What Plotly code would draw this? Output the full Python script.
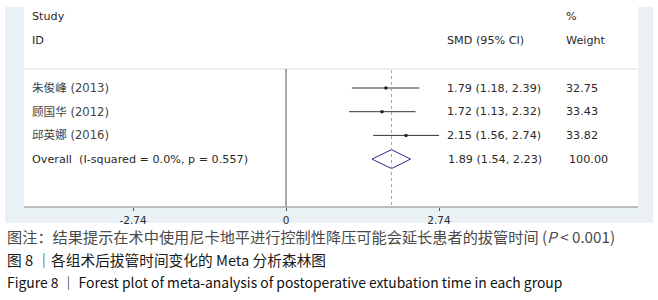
import plotly.graph_objects as go

# ---- data ----
studies = ["朱俊峰 (2013)", "顾国华 (2012)", "邱英娜 (2016)"]
smd = [1.79, 1.72, 2.15]
ci_low = [1.18, 1.13, 1.56]
ci_high = [2.39, 2.32, 2.74]
weights = [32.75, 33.43, 33.82]
overall_label = "Overall  (I-squared = 0.0%, p = 0.557)"
overall_smd = 1.89
overall_low = 1.54
overall_high = 2.23
overall_weight = 100.00
tick_vals = [-2.74, 0, 2.74]
tick_text = ["-2.74", "0", "2.74"]
captions = [
    "图注：结果提示在术中使用尼卡地平进行控制性降压可能会延长患者的拔管时间 (<i>P</i> < 0.001)",
    "图 8 ｜各组术后拔管时间变化的 Meta 分析森林图",
    "Figure 8 ｜ Forest plot of meta-analysis of postoperative extubation time in each group",
]

W, H = 658, 300
FONT = "DejaVu Sans"
TXT = "#2a2a2a"
FS = 11.2

# pixel layout helpers
px0 = 286.0            # pixel of x = 0
ppu = 153.0 / 2.74     # pixels per unit
left_px, right_px = 24, 638
top_px, bot_px = 7, 207
row0_px, row_step = 88.0, 23.7

def row_of(py):
    return (py - row0_px) / row_step

def pyp(py):  # pixel y -> paper y (paper spans the plot area)
    return (bot_px - py) / (bot_px - top_px)

def pxp(px):
    return px / W

yr = [row_of(bot_px), row_of(top_px)]

rows = list(range(len(studies)))
overall_row = len(studies)

fig = go.Figure()

fig.add_trace(go.Scatter(
    x=smd, y=rows, mode="markers",
    marker=dict(size=3.5, color="#222"),
    error_x=dict(type="data", symmetric=False,
                 array=[h - e for h, e in zip(ci_high, smd)],
                 arrayminus=[e - l for e, l in zip(smd, ci_low)],
                 thickness=1, width=0, color="#333"),
    showlegend=False, hoverinfo="skip"))

dh = 0.4
fig.add_trace(go.Scatter(
    x=[overall_low, overall_smd, overall_high, overall_smd, overall_low],
    y=[overall_row, overall_row - dh, overall_row, overall_row + dh, overall_row],
    mode="lines", line=dict(color="#2b2b8c", width=1),
    showlegend=False, hoverinfo="skip"))

shapes = [
    dict(type="rect", xref="paper", yref="paper", layer="below",
         x0=pxp(5), x1=pxp(653), y0=pyp(223), y1=pyp(7),
         fillcolor="#e9f1f4", line=dict(width=0)),
    dict(type="rect", xref="paper", yref="paper", layer="below",
         x0=pxp(left_px), x1=pxp(right_px), y0=pyp(bot_px), y1=pyp(top_px),
         fillcolor="white", line=dict(width=0)),
    dict(type="line", xref="paper", yref="y", x0=pxp(left_px), x1=pxp(right_px),
         y0=row_of(69), y1=row_of(69), line=dict(color="#dcdcdc", width=1)),
    dict(type="line", xref="x", yref="y", x0=0, x1=0,
         y0=row_of(69), y1=yr[0], line=dict(color="#555", width=1)),
    dict(type="line", xref="x", yref="y", x0=overall_smd, x1=overall_smd,
         y0=row_of(70), y1=yr[0], line=dict(color="#d98a8a", width=1, dash="dot")),
    dict(type="line", xref="paper", yref="paper",
         x0=pxp(left_px), x1=pxp(right_px), y0=pyp(bot_px), y1=pyp(bot_px),
         line=dict(color="#a8a8a8", width=1.5)),
]

ann = []
def txt(xpx, y, s, size=FS, color=TXT, anchor="left", font=FONT):
    ann.append(dict(x=pxp(xpx), xref="paper", y=y, yref="y", text=s,
                    showarrow=False, xanchor=anchor, yanchor="middle",
                    font=dict(family=font, size=size, color=color)))

txt(30, row_of(16), "Study")
txt(30, row_of(40), "ID")
txt(445, row_of(40), "SMD (95% CI)")
txt(564, row_of(16), "%")
txt(564, row_of(40), "Weight")

for i, name in enumerate(studies):
    txt(30, i, name, font="DejaVu Sans, Noto Sans CJK SC", size=11.6, color="#444")
    txt(445, i, f"{smd[i]:.2f} ({ci_low[i]:.2f}, {ci_high[i]:.2f})")
    txt(564, i, f"{weights[i]:.2f}")

txt(30, overall_row, overall_label)
txt(446, overall_row, f"{overall_smd:.2f} ({overall_low:.2f}, {overall_high:.2f})")
txt(567, overall_row, f"{overall_weight:.2f}")

cap_y = [236, 259, 282]
cap_col = ["#4a4a4a", "#1a1a1a", "#111111"]
cap_size = [15.2, 14.7, 13.9]
for s, py, c, sz in zip(captions, cap_y, cap_col, cap_size):
    ann.append(dict(x=pxp(5), xref="paper", y=pyp(py), yref="paper", text=s,
                    showarrow=False, xanchor="left", yanchor="middle",
                    font=dict(family="Noto Sans CJK SC", size=sz, color=c)))

fig.update_layout(
    width=W, height=H,
    margin=dict(l=0, r=0, t=top_px, b=H - bot_px),
    paper_bgcolor="white", plot_bgcolor="rgba(0,0,0,0)",
    shapes=shapes, annotations=ann,
    xaxis=dict(domain=[0, 1], range=[(0 - px0) / ppu, (W - px0) / ppu],
               showgrid=False, zeroline=False, showline=False,
               ticks="outside", ticklen=3, tickcolor="#555", tickwidth=1,
               tickvals=tick_vals, ticktext=tick_text,
               tickfont=dict(family=FONT, size=10.5, color=TXT)),
    yaxis=dict(range=yr, showgrid=False, zeroline=False, showticklabels=False,
               showline=False),
)

fig.write_html("out.html", config={"displayModeBar": False},
               post_script="document.body.style.margin='0';")
